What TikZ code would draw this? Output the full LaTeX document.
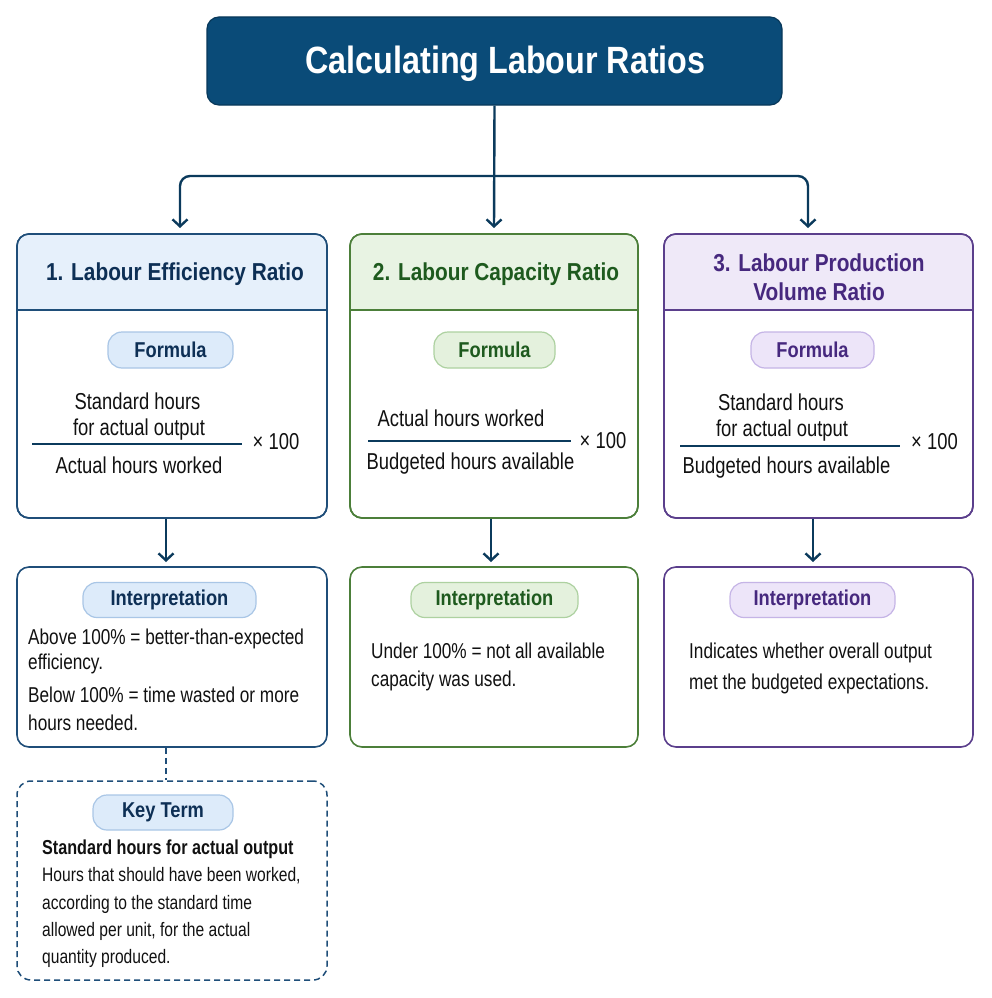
\documentclass[tikz,border=0pt]{standalone}
\usepackage{fontspec}
\setmainfont{Liberation Sans}[FakeStretch=0.8]
\newfontfamily\widerfont{Liberation Sans}[FakeStretch=0.85]
\usetikzlibrary{arrows.meta}
\definecolor{navy}{HTML}{0B3A5C}
\definecolor{titlefill}{HTML}{0A4B78}
\definecolor{titledraw}{HTML}{08385A}
\definecolor{bA}{HTML}{1F4E79}\definecolor{hA}{HTML}{E6F0FB}\definecolor{tA}{HTML}{0D2F55}
\definecolor{bB}{HTML}{4C7F3A}\definecolor{hB}{HTML}{E8F3E3}\definecolor{tB}{HTML}{1E5A1E}
\definecolor{bC}{HTML}{5B3F8C}\definecolor{hC}{HTML}{EFE9F8}\definecolor{tC}{HTML}{46287E}
\definecolor{pA}{HTML}{DDEBFA}\definecolor{qA}{HTML}{A9C6E6}
\definecolor{pB}{HTML}{E4F1DD}\definecolor{qB}{HTML}{ADD1A0}
\definecolor{pC}{HTML}{EDE5F9}\definecolor{qC}{HTML}{C5B4E6}
\definecolor{ink}{HTML}{111111}
\tikzset{
  panel/.style={draw=#1, line width=1.6pt, rounded corners=12pt, fill=white, inner sep=0pt},
  pill/.style={draw=#1, line width=1.2pt, rounded corners=14pt, inner sep=0pt, minimum height=36pt, font=\widerfont\bfseries\fontsize{21.5}{24}\selectfont},
  hdrtext/.style={font=\widerfont\bfseries\fontsize{24.5}{29}\selectfont, align=center},
  body/.style={font=\fontsize{21.5}{24}\selectfont, text=ink, inner sep=0pt, anchor=west},
  keybody/.style={font=\fontsize{19.5}{22}\selectfont, text=ink, inner sep=0pt, anchor=west},
  frm/.style={font=\fontsize{23}{26}\selectfont, text=ink, inner sep=0pt, anchor=center},
  conn/.style={draw=navy, line width=2.4pt},
  arr/.style={conn, -{Straight Barb[length=7pt,width=15pt,line width=2.4pt]}},
  fracline/.style={draw=navy, line width=1.3pt}
}
\begin{document}
\begin{tikzpicture}[x=1pt,y=-1pt]
\useasboundingbox (0,0) rectangle (991,998);
% title
\node[draw=titledraw, fill=titlefill, line width=1.2pt, rounded corners=12pt, minimum width=575pt, minimum height=88pt, inner sep=0pt] (title) at (494.5,61) {};
\node[text=white, font=\widerfont\bfseries\fontsize{38}{42}\selectfont] (tt) at (505.5,64) {Calculating Labour Ratios};
% panels
\node[panel=bA, minimum width=310pt, minimum height=284pt] (b1) at (172,376) {};
\node[panel=bB, minimum width=288pt, minimum height=284pt] (b2) at (494,376) {};
\node[panel=bC, minimum width=309pt, minimum height=284pt] (b3) at (818.5,376) {};
% headers
\fill[hA] (17.8,310) [rounded corners=11pt] -- (17.8,234.8) -- (326.2,234.8) [sharp corners] -- (326.2,310) -- cycle;
\fill[hB] (350.8,310) [rounded corners=11pt] -- (350.8,234.8) -- (637.2,234.8) [sharp corners] -- (637.2,310) -- cycle;
\fill[hC] (664.8,310) [rounded corners=11pt] -- (664.8,234.8) -- (972.2,234.8) [sharp corners] -- (972.2,310) -- cycle;
\node[panel=bA, fill=none, minimum width=310pt, minimum height=284pt] at (172,376) {};
\node[panel=bB, fill=none, minimum width=288pt, minimum height=284pt] at (494,376) {};
\node[panel=bC, fill=none, minimum width=309pt, minimum height=284pt] at (818.5,376) {};
\draw[bA, line width=1.2pt] (17,310) -- (327,310);
\draw[bB, line width=1.2pt] (350,310) -- (638,310);
\draw[bC, line width=1.2pt] (664,310) -- (973,310);
\node[hdrtext, text=tA] (h1) at (175,274) {1. Labour Efficiency Ratio};
\node[hdrtext, text=tB] (h2) at (496,274) {2. Labour Capacity Ratio};
\node[hdrtext, text=tC] (h3) at (819,277) {3. Labour Production\\Volume Ratio};
% formula pills
\node[pill=qA, fill=pA, text=tA, minimum width=125pt] (f1) at (170.5,350) {Formula};
\node[pill=qB, fill=pB, text=tB, minimum width=121pt] (f2) at (494.5,350) {Formula};
\node[pill=qC, fill=pC, text=tC, minimum width=123pt] (f3) at (812.5,350) {Formula};
% formulas
\node[frm] (n1a) at (137.5,401) {Standard hours};
\node[frm] (n1b) at (139,429.5) {for actual output};
\draw[fracline] (32,444) -- (242,444);
\node[frm] (d1) at (139,465) {Actual hours worked};
\node[frm] (x1) at (276,442) {× 100};
\node[frm] (n2) at (461,418) {Actual hours worked};
\draw[fracline] (368,441) -- (571,441);
\node[frm] (d2) at (470.5,464) {Budgeted hours available};
\node[frm] (x2) at (603,441) {× 100};
\node[frm] (n3a) at (781,402) {Standard hours};
\node[frm] (n3b) at (782,431) {for actual output};
\draw[fracline] (680,446) -- (900,446);
\node[frm] (d3) at (786.5,468) {Budgeted hours available};
\node[frm] (x3) at (934.5,442) {× 100};
% interpretation panels
\node[panel=bA, minimum width=310pt, minimum height=180pt] (i1) at (172,657) {};
\node[panel=bB, minimum width=288pt, minimum height=180pt] (i2) at (494,657) {};
\node[panel=bC, minimum width=309pt, minimum height=180pt] (i3) at (818.5,657) {};
\node[pill=qA, fill=pA, text=tA, minimum width=173pt, minimum height=35pt] (p1) at (169.5,600) {Interpretation};
\node[pill=qB, fill=pB, text=tB, minimum width=167pt, minimum height=35pt] (p2) at (494.5,600) {Interpretation};
\node[pill=qC, fill=pC, text=tC, minimum width=165pt, minimum height=35pt] (p3) at (812.5,600) {Interpretation};
\node[body] (t1a) at (28,639) {Above 100\% = better-than-expected};
\node[body] (t1b) at (28,664) {efficiency.};
\node[body] (t1c) at (28,695) {Below 100\% = time wasted or more};
\node[body] (t1d) at (28,723) {hours needed.};
\node[body] (t2a) at (371,651) {Under 100\% = not all available};
\node[body] (t2b) at (371,681) {capacity was used.};
\node[body] (t3a) at (689,653) {Indicates whether overall output};
\node[body] (t3b) at (689,684) {met the budgeted expectations.};
% key term
\node[draw=bA, line width=1.5pt, dash pattern=on 6pt off 4pt, rounded corners=14pt, minimum width=310pt, minimum height=199pt] (k) at (172,880.5) {};
\node[pill=qA, fill=pA, text=tA, minimum width=140pt, minimum height=35pt] (kp) at (163,812.5) {Key Term};
\node[keybody, font=\bfseries\fontsize{20.2}{22}\selectfont] (ka) at (42,849) {Standard hours for actual output};
\node[keybody] (kb) at (42,876) {Hours that should have been worked,};
\node[keybody] (kc) at (42,904) {according to the standard time};
\node[keybody] (kd) at (42,931) {allowed per unit, for the actual};
\node[keybody] (ke) at (42,958) {quantity produced.};
% connectors
\coordinate (split) at (494,176);
\coordinate (a1) at (180,228);
\coordinate (a3) at (808,228);
\draw[arr] (title.south) -- (494,228);
\draw[arr, rounded corners=10pt] (split) -| (a1);
\draw[arr, rounded corners=10pt] (split) -| (a3);
\draw[arr] (b1.south -| 166,0) -- (166,562);
\draw[arr] (b2.south -| 491,0) -- (491,562);
\draw[arr] (b3.south -| 813,0) -- (813,562);
\draw[draw=bA, line width=1.5pt, dash pattern=on 6pt off 4pt] (i1.south -| 166,0) -- (k.north -| 166,0);
\end{tikzpicture}
\end{document}
